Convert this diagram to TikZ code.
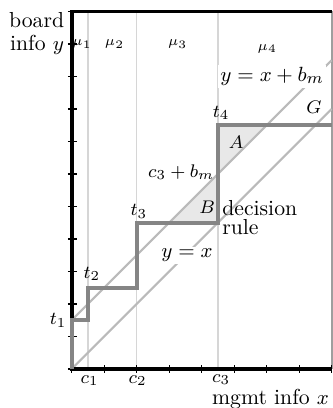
\documentclass[tikz,border=0pt]{standalone}
\begin{document}
\begin{tikzpicture}[x=0.5cm,y=0.5cm,
  axis/.style={line width=1.6pt, black},
  tickmark/.style={line width=0.6pt, black},
  cline/.style={line width=0.5pt, black!16},
  edgeline/.style={line width=0.8pt, black!38},
  diag/.style={line width=0.9pt, black!27},
  stair/.style={line width=1.8pt, black!48},
  region/.style={fill=black!9},
  big/.style={font=\fontsize{9.5}{10}\selectfont},
  small/.style={font=\fontsize{8}{9}\selectfont},
  tinylbl/.style={font=\fontsize{6.5}{7}\selectfont},
  lbl/.style={fill=white, inner sep=1pt}]
\useasboundingbox (-2.206,-1.2) rectangle (8.01,11.354);

% key points
\coordinate (O) at (0,0);
\coordinate (Otop) at (0,11);
\coordinate (Xend) at (8,0);
\coordinate (TR) at (8,11);
\coordinate (s1) at (0,1.5);
\coordinate (s2) at (0.5,1.5);
\coordinate (s3) at (0.5,2.5);
\coordinate (s4) at (2,2.5);
\coordinate (s5) at (2,4.5);
\coordinate (s6) at (4.5,4.5);
\coordinate (s7) at (4.5,7.5);
\coordinate (s8) at (8,7.5);

% shaded regions A and B
\fill[region] (3,4.5) -- (s6) -- (4.5,6) -- cycle;
\fill[region] (4.5,6) -- (s7) -- (6,7.5) -- cycle;

% vertical helper lines
\draw[cline] (0.5,0) -- (0.5,11);
\draw[cline] (2,0) -- (2,11);
\draw[cline] (4.5,0) -- (4.5,11);
\draw[edgeline] (Xend) -- (TR);

% diagonals
\draw[diag] (O) -- (8,8);
\draw[diag] (s1) -- (8,9.5);

% axes
\draw[axis] (Xend) -- (O) -- (Otop) -- (TR);
\foreach \i in {0,...,8} \draw[tickmark] (\i,-0.12) -- (\i,0.12);
\foreach \i in {0,...,11} \draw[tickmark] (-0.12,\i) -- (0.16,\i);

% decision rule staircase
\draw[stair] (O) -- (s1) -- (s2) -- (s3) -- (s4) -- (s5) -- (s6) -- (s7) -- (s8);

% line labels
\node[big, lbl] (lyx) at (3.55,3.5) {$y=x$};
\node[big, lbl] (lyxb) at (6.17,9.0) {$y=x+b_m$};

% axis labels
\node[big, anchor=east, align=right, inner sep=0pt,
      font=\fontsize{9.5}{10.2}\selectfont] (ylab) at (-0.22,10.33) {board\\info $y$};
\node[big, anchor=east, inner sep=0pt] (xlab) at (7.93,-0.93) {mgmt info $x$};
\node[big, anchor=west, align=left, inner sep=0pt,
      font=\fontsize{9.5}{8.6}\selectfont] (dec) at (4.62,4.66) {decision\\rule};

% mu labels
\node[tinylbl] (mu1) at (0.32,10.0) {$\mu_1$};
\node[tinylbl] (mu2) at (1.32,10.0) {$\mu_2$};
\node[tinylbl] (mu3) at (3.26,10.0) {$\mu_3$};
\node[tinylbl] (mu4) at (6.02,9.86) {$\mu_4$};

% t labels
\node[small, anchor=east, inner sep=1pt] (t1) at (-0.08,1.5) {$t_1$};
\node[small] (t2) at (0.62,2.92) {$t_2$};
\node[small] (t3) at (2.07,4.85) {$t_3$};
\node[small] (t4) at (4.6,7.88) {$t_4$};

% c labels
\node[small] (c1) at (0.55,-0.36) {$c_1$};
\node[small] (c2) at (2.03,-0.36) {$c_2$};
\node[small] (c3) at (4.6,-0.33) {$c_3$};
\node[small, anchor=east, inner sep=1pt] (c3b) at (4.47,6.06) {$c_3+b_m$};

% region labels
\node[small] (A) at (5.06,6.98) {$A$};
\node[small] (B) at (4.17,4.98) {$B$};
\node[small] (G) at (7.45,8.06) {$G$};
\end{tikzpicture}
\end{document}
